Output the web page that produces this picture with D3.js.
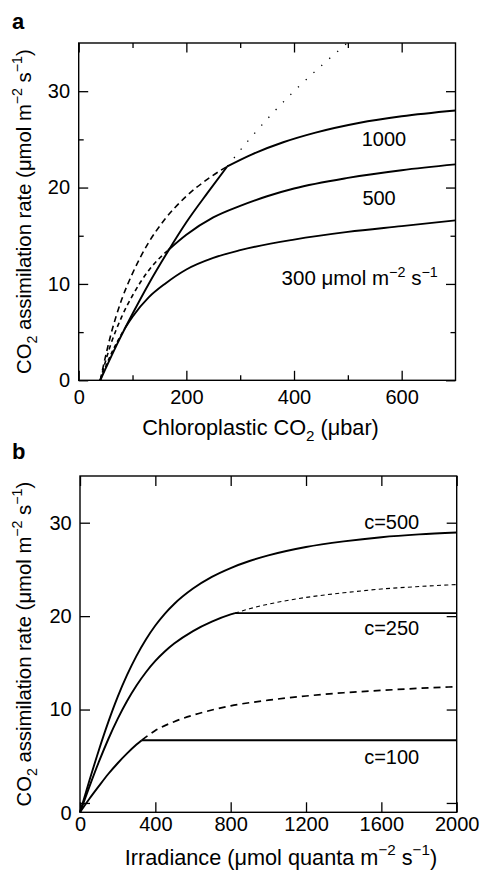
<!DOCTYPE html>
<html><head><meta charset="utf-8">
<script src="https://cdn.jsdelivr.net/npm/d3@7"></script>
<style>
html,body{margin:0;padding:0;background:#fff;}
svg{display:block;font-family:"Liberation Sans",Arial,Helvetica,sans-serif;}
</style></head><body>
<svg id="chart" width="481" height="870"></svg>
<script>
// ---------- Panel a: CO2 assimilation vs chloroplastic CO2 ----------
const aXTicks = [0, 200, 400, 600];
const aXMinor = [100, 300, 500];
const aYTicks = [0, 10, 20, 30];
const aYMinor = [5, 15, 25];
const rubiscoSolid  = [[40,0],[70,3.6],[100,6.9],[130,10.0],[166,13.4],[200,16.4],[240,19.5],[276,22.2]];
const rubiscoDotted = [[276,22.2],[320,25.2],[360,27.7],[400,30.0],[450,32.6],[499,35.0]];
const j1000Dashed = [[40,0],[60,4.8],[80,8.4],[100,11.1],[130,14.3],[160,16.7],[200,19.1],[240,20.9],[276,22.2]];
const j1000Solid  = [[276,22.2],[320,23.4],[380,24.7],[440,25.7],[520,26.7],[600,27.4],[700,28.0]];
const j500Dashed  = [[40,0],[60,3.8],[80,6.6],[100,8.8],[130,11.4],[166,13.5]];
const j500Solid   = [[166,13.5],[200,15.1],[250,16.9],[300,18.1],[350,19.1],[400,19.9],[500,21.0],[600,21.8],[700,22.4]];
const j300Dashed  = [[40,0],[60,2.7],[87,5.5]];
const j300Solid   = [[87,5.5],[100,6.6],[130,8.6],[160,10.0],[200,11.5],[250,12.7],[300,13.5],[400,14.6],[500,15.4],[600,16.0],[700,16.6]];
const aCurveLabels = ["1000", "500"];

// ---------- Panel b: CO2 assimilation vs irradiance ----------
const bXTicks = [0, 400, 800, 1200, 1600, 2000];
const bYTicks = [0, 10, 20, 30];
const c500Solid  = [[0,-1],[50,2.4],[100,5.65],[150,8.65],[200,11.35],[250,13.7],[300,15.75],[350,17.5],[400,19.0],[450,20.25],[500,21.3],[600,22.95],[700,24.2],[800,25.15],[900,25.9],[1000,26.5],[1200,27.4],[1400,28.0],[1600,28.45],[1800,28.75],[2000,28.95]];
const c250Solid  = [[0,-1],[50,1.75],[100,4.39],[150,6.82],[200,9.0],[250,10.91],[300,12.57],[350,13.99],[400,15.2],[450,16.21],[500,17.06],[600,18.4],[700,19.41],[800,20.18],[823,20.32]];
const c250Flat   = [[823,20.32],[2000,20.32]];
const c250Dotted = [[823,20.32],[900,20.79],[1000,21.28],[1200,22.0],[1400,22.5],[1600,22.9],[1800,23.17],[2000,23.38]];
const c100Solid  = [[0,-1],[50,0.45],[100,1.8],[150,3.1],[200,4.25],[250,5.3],[300,6.25],[328,6.72]];
const c100Flat   = [[328,6.72],[2000,6.72]];
const c100Dashed = [[328,6.72],[400,7.75],[500,8.7],[600,9.4],[700,9.95],[800,10.4],[1000,11.0],[1200,11.45],[1400,11.8],[1600,12.05],[1800,12.27],[2000,12.45]];
const bCurveLabels = ["c=500", "c=250", "c=100"];

const svg = d3.select("#chart");
const FONT = 20;

function richText(g, parts, x, y, anchor, size) {
  const t = g.append("text").attr("x", x).attr("y", y)
    .attr("text-anchor", anchor).attr("font-size", size).attr("fill", "#000");
  let pending = 0;
  parts.forEach(p => {
    let s, dy = pending, fs = null;
    if (typeof p === "string") { s = p; pending = 0; }
    else if (p.sup) { s = p.sup; dy += -0.42 * size; pending = 0.42 * size; fs = size * 0.7; }
    else { s = p.sub; dy += 0.3 * size; pending = -0.3 * size; fs = size * 0.7; }
    const ts = t.append("tspan").text(s);
    if (dy) ts.attr("dy", dy);
    if (fs) ts.attr("font-size", fs);
  });
  return t;
}

function styleAxis(g) {
  g.select(".domain").remove();
  g.selectAll(".tick line").attr("stroke", "#000").attr("stroke-width", 1.3);
  g.selectAll(".tick text").attr("fill", "#000").attr("font-size", FONT)
    .attr("font-family", '"Liberation Sans",Arial,Helvetica,sans-serif');
  g.attr("font-family", null).attr("font-size", null);
}

function frameAxes(x, y, o) {
  const [x0, x1] = x.range(), [y0, y1] = y.range();
  const g = svg.append("g");
  g.append("g").attr("transform", `translate(0,${y0})`)
    .call(d3.axisBottom(x).tickValues(o.xt).tickSizeInner(-o.major).tickSizeOuter(0).tickPadding(o.xPad).tickFormat(d3.format("d")))
    .call(styleAxis);
  g.append("g").attr("transform", `translate(0,${y1})`)
    .call(d3.axisTop(x).tickValues(o.xt).tickSizeInner(-o.major).tickSizeOuter(0).tickFormat(""))
    .call(styleAxis);
  g.append("g").attr("transform", `translate(${x0},0)`)
    .call(d3.axisLeft(y).tickValues(o.yt).tickSizeInner(-o.major).tickSizeOuter(0).tickPadding(o.yPad).tickFormat(d3.format("d")))
    .call(styleAxis).attr("class", "yleft");
  g.append("g").attr("transform", `translate(${x1},0)`)
    .call(d3.axisRight(y).tickValues(o.yt).tickSizeInner(-o.major).tickSizeOuter(0).tickFormat(""))
    .call(styleAxis);
  if (o.xm) {
    g.append("g").attr("transform", `translate(0,${y0})`)
      .call(d3.axisBottom(x).tickValues(o.xm).tickSizeInner(-o.minor).tickSizeOuter(0).tickFormat("")).call(styleAxis);
    g.append("g").attr("transform", `translate(0,${y1})`)
      .call(d3.axisTop(x).tickValues(o.xm).tickSizeInner(-o.minor).tickSizeOuter(0).tickFormat("")).call(styleAxis);
  }
  if (o.ym) {
    g.append("g").attr("transform", `translate(${x0},0)`)
      .call(d3.axisLeft(y).tickValues(o.ym).tickSizeInner(-o.minor).tickSizeOuter(0).tickFormat("")).call(styleAxis);
    g.append("g").attr("transform", `translate(${x1},0)`)
      .call(d3.axisRight(y).tickValues(o.ym).tickSizeInner(-o.minor).tickSizeOuter(0).tickFormat("")).call(styleAxis);
  }
  g.selectAll(".tick text").filter(function(){ return this.textContent === ""; }).remove();
  g.append("rect").attr("x", x0).attr("y", y1).attr("width", x1 - x0).attr("height", y0 - y1)
    .attr("fill", "none").attr("stroke", "#000").attr("stroke-width", 1.4);
  return g;
}

function drawLine(x, y, data, sw, dash) {
  const line = d3.line().x(d => x(d[0])).y(d => y(d[1])).curve(d3.curveMonotoneX);
  svg.append("path").datum(data).attr("d", line)
    .attr("fill", "none").attr("stroke", "#000").attr("stroke-width", sw)
    .attr("stroke-dasharray", dash || null).attr("stroke-linejoin", "round");
}

// ================= Panel a =================
const xa = d3.scaleLinear().domain([0, 700]).range([78.7, 455.5]);
const ya = d3.scaleLinear().domain([0, 35]).range([380.3, 43]);
frameAxes(xa, ya, {xt: aXTicks, xm: aXMinor, yt: aYTicks, ym: aYMinor, major: 9.5, minor: 5, xPad: 9.5, yPad: 8.7});

drawLine(xa, ya, rubiscoDotted, 1.3, "1.3,9.3");
drawLine(xa, ya, j1000Dashed, 1.6, "6,4");
drawLine(xa, ya, j500Dashed, 1.6, "4.5,3.5");
drawLine(xa, ya, j300Dashed, 1.6, "4,3");
drawLine(xa, ya, rubiscoSolid, 1.9);
drawLine(xa, ya, j1000Solid, 1.9);
drawLine(xa, ya, j500Solid, 1.9);
drawLine(xa, ya, j300Solid, 1.9);

svg.append("text").attr("x", xa(567)).attr("y", ya(25.0)).attr("dy", "0.35em")
  .attr("text-anchor", "middle").attr("font-size", FONT).text(aCurveLabels[0]);
svg.append("text").attr("x", xa(558)).attr("y", ya(18.9)).attr("dy", "0.35em")
  .attr("text-anchor", "middle").attr("font-size", FONT).text(aCurveLabels[1]);
richText(svg, ["300 \u03BCmol m", {sup: "\u22122"}, " s", {sup: "\u22121"}], xa(522), ya(10.6) + 7, "middle", 20.5);

richText(svg, ["Chloroplastic CO", {sub: "2"}, " (\u03BCbar)"], 260.5, 434.5, "middle", 21.7);
svg.append("text").attr("x", 12).attr("y", 28.5).attr("font-size", 22).attr("font-weight", "bold").text("a");

const yTitleParts = ["CO", {sub: "2"}, " assimilation rate (\u03BCmol m", {sup: "\u22122"}, " s", {sup: "\u22121"}, ")"];
{
  const g = svg.append("g").attr("transform", `translate(31,${(43 + 380.3) / 2}) rotate(-90)`);
  richText(g, yTitleParts, 0, 0, "middle", 20.3);
}

// ================= Panel b =================
const xb = d3.scaleLinear().domain([0, 2000]).range([80, 456.7]);
const yb = d3.scaleLinear().domain([-1, 35]).range([812.3, 476]);
const gb = frameAxes(xb, yb, {xt: bXTicks, yt: bYTicks, major: 10, minor: 5, xPad: 4.2, yPad: 8.3});
// the "0" label of the y axis sits at the bottom of the frame in the original
gb.selectAll(".yleft .tick").filter(d => d === 0).select("text").attr("y", 10);

drawLine(xb, yb, c250Dotted, 1.1, "4,3.3");
drawLine(xb, yb, c100Dashed, 1.7, "7,5");
drawLine(xb, yb, c500Solid, 1.9);
drawLine(xb, yb, c250Solid, 1.9);
drawLine(xb, yb, c250Flat, 1.9);
drawLine(xb, yb, c100Solid, 1.9);
drawLine(xb, yb, c100Flat, 1.9);

svg.append("text").attr("x", xb(1655)).attr("y", yb(30.1)).attr("dy", "0.35em")
  .attr("text-anchor", "middle").attr("font-size", FONT).text(bCurveLabels[0]);
svg.append("text").attr("x", xb(1655)).attr("y", yb(18.7)).attr("dy", "0.35em")
  .attr("text-anchor", "middle").attr("font-size", FONT).text(bCurveLabels[1]);
svg.append("text").attr("x", xb(1655)).attr("y", yb(4.95)).attr("dy", "0.35em")
  .attr("text-anchor", "middle").attr("font-size", FONT).text(bCurveLabels[2]);

richText(svg, ["Irradiance (\u03BCmol quanta m", {sup: "\u22122"}, " s", {sup: "\u22121"}, ")"], 281, 864.5, "middle", 21.7);
svg.append("text").attr("x", 12).attr("y", 459).attr("font-size", 22).attr("font-weight", "bold").text("b");
{
  const g = svg.append("g").attr("transform", `translate(31,${(476 + 812.3) / 2}) rotate(-90)`);
  richText(g, yTitleParts, 0, 0, "middle", 20.3);
}
</script>
</body></html>
